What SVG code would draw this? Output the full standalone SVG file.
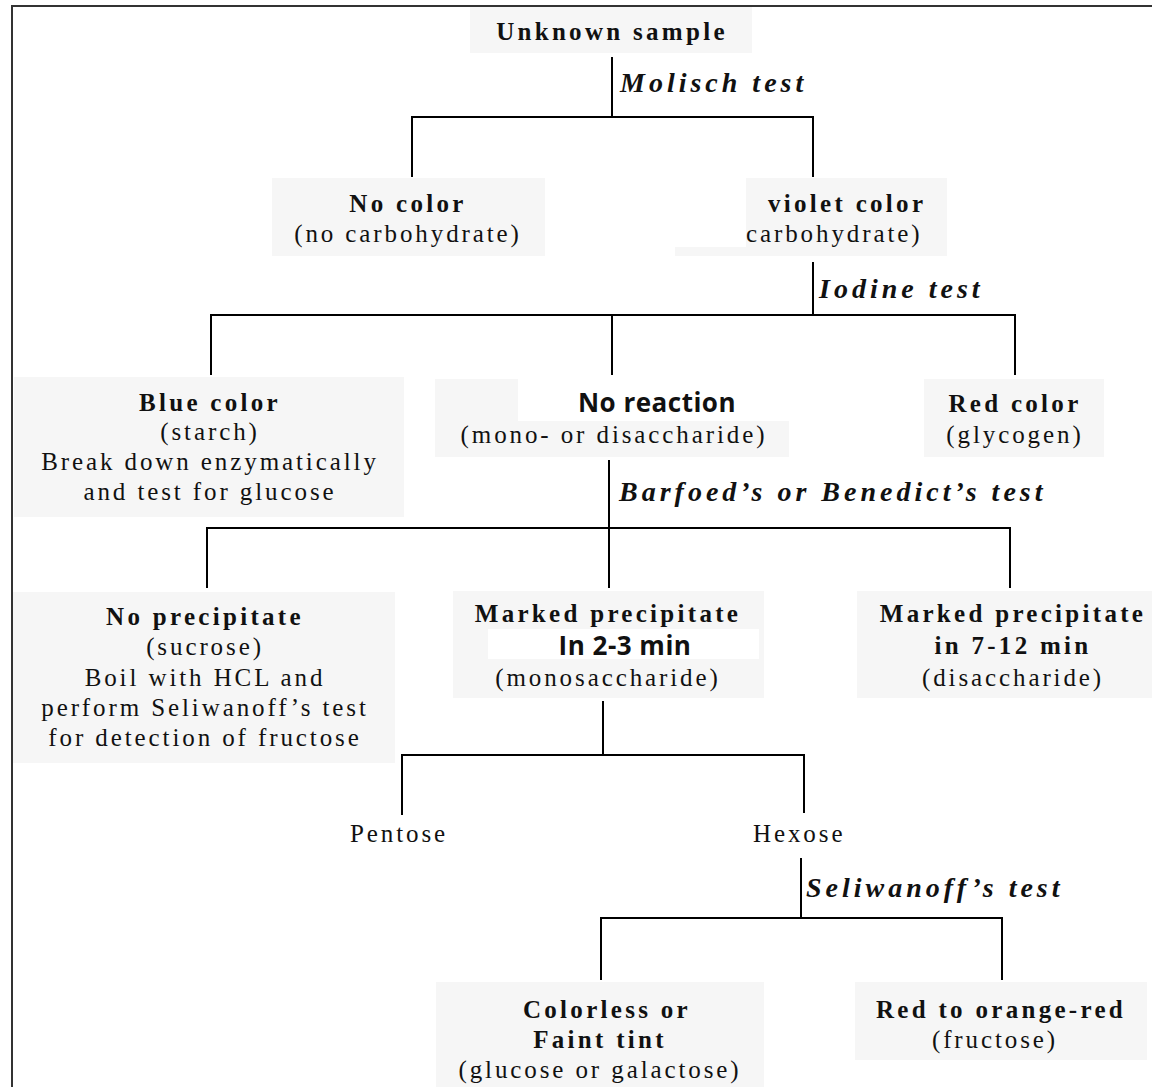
<svg xmlns="http://www.w3.org/2000/svg" width="1152" height="1087" viewBox="0 0 1152 1087">
<style>
.box{fill:#f6f6f6}
.wp{fill:#ffffff}
.ln{stroke:#000;stroke-width:2;fill:none}
.fr{stroke:#333;stroke-width:2;fill:none}
text{fill:#111;text-anchor:middle}
.r{font-family:"Liberation Serif","Times New Roman",serif;font-size:25px;letter-spacing:2.9px}
.b{font-family:"Liberation Serif","Times New Roman",serif;font-size:25px;font-weight:bold;letter-spacing:3.3px}
.i{font-family:"Liberation Serif","Times New Roman",serif;font-size:28px;font-weight:bold;font-style:italic;letter-spacing:4px;text-anchor:start}
.s{font-family:"Open Sans","Liberation Sans",sans-serif;font-size:26px;font-weight:bold;letter-spacing:0.5px}
.st{text-anchor:start}
</style>
<rect x="0" y="0" width="1152" height="1087" fill="#ffffff"/>
<path class="fr" d="M12 1087 V6 H1152"/>
<g id="connectors">
<path class="ln" d="M612 57 V117"/>
<path class="ln" d="M412 177 V117 H813 V177"/>
<path class="ln" d="M813 262 V315"/>
<path class="ln" d="M211 375 V315 H1015 V375"/>
<path class="ln" d="M612 315 V375"/>
<path class="ln" d="M609 460 V528"/>
<path class="ln" d="M207 588 V528 H1010 V588"/>
<path class="ln" d="M609 528 V588"/>
<path class="ln" d="M603 701 V755"/>
<path class="ln" d="M402 815 V755 H804 V813"/>
<path class="ln" d="M801 858 V918"/>
<path class="ln" d="M601 980 V918 H1002 V980"/>
<text class="i" x="620" y="92">Molisch test</text>
<text class="i" x="819" y="298">Iodine test</text>
<text class="i" x="619" y="501">Barfoed’s or Benedict’s test</text>
<text class="i" x="806" y="897">Seliwanoff’s test</text>
</g>
<g id="n-unknown">
<rect class="box" x="470" y="7" width="282" height="46"/>
<text class="b" x="612" y="40">Unknown sample</text>
</g>
<g id="n-nocolor">
<rect class="box" x="272" y="178" width="273" height="78"/>
<text class="b" x="408" y="212">No color</text>
<text class="r" x="408" y="242">(no carbohydrate)</text>
</g>
<g id="n-violet">
<rect class="box" x="675" y="178" width="272" height="78"/>
<rect class="wp" x="675" y="178" width="71" height="69"/>
<text class="b st" x="768" y="212">violet color</text>
<text class="r st" x="746" y="242">carbohydrate)</text>
</g>
<g id="n-blue">
<rect class="box" x="14" y="377" width="390" height="140"/>
<text class="b" x="210" y="411">Blue color</text>
<text class="r" x="210" y="440">(starch)</text>
<text class="r" x="210" y="470">Break down enzymatically</text>
<text class="r" x="210" y="500">and test for glucose</text>
</g>
<g id="n-noreaction">
<rect class="box" x="435" y="379" width="354" height="78"/>
<rect class="wp" x="518" y="379" width="271" height="42"/>
<text class="s" x="657" y="412">No reaction</text>
<text class="r" x="614" y="443">(mono- or disaccharide)</text>
</g>
<g id="n-red">
<rect class="box" x="924" y="379" width="180" height="78"/>
<text class="b" x="1015" y="412">Red color</text>
<text class="r" x="1015" y="443">(glycogen)</text>
</g>
<g id="n-noprecip">
<rect class="box" x="13" y="592" width="382" height="171"/>
<text class="b" x="205" y="625">No precipitate</text>
<text class="r" x="205" y="655">(sucrose)</text>
<text class="r" x="205" y="686">Boil with HCL and</text>
<text class="r" x="205" y="716">perform Seliwanoff’s test</text>
<text class="r" x="205" y="746">for detection of fructose</text>
</g>
<g id="n-mono">
<rect class="box" x="453" y="591" width="311" height="107"/>
<text class="b" x="608" y="622">Marked precipitate</text>
<rect class="wp" x="488" y="629" width="271" height="30"/>
<text class="s" x="625" y="655">In 2-3 min</text>
<text class="r" x="608" y="686">(monosaccharide)</text>
</g>
<g id="n-di">
<rect class="box" x="857" y="591" width="300" height="107"/>
<text class="b" x="1013" y="622">Marked precipitate</text>
<text class="b" x="1013" y="654">in 7-12 min</text>
<text class="r" x="1013" y="686">(disaccharide)</text>
</g>
<g id="n-pentose">
<text class="r st" x="350" y="842">Pentose</text>
</g>
<g id="n-hexose">
<text class="r st" x="753" y="842">Hexose</text>
</g>
<g id="n-colorless">
<rect class="box" x="436" y="982" width="328" height="105"/>
<text class="b" x="607" y="1018">Colorless or</text>
<text class="b" x="600" y="1048">Faint tint</text>
<text class="r" x="600" y="1078">(glucose or galactose)</text>
</g>
<g id="n-fructose">
<rect class="box" x="855" y="982" width="292" height="78"/>
<text class="b" x="1001" y="1018">Red to orange-red</text>
<text class="r" x="995" y="1048">(fructose)</text>
</g>
</svg>
